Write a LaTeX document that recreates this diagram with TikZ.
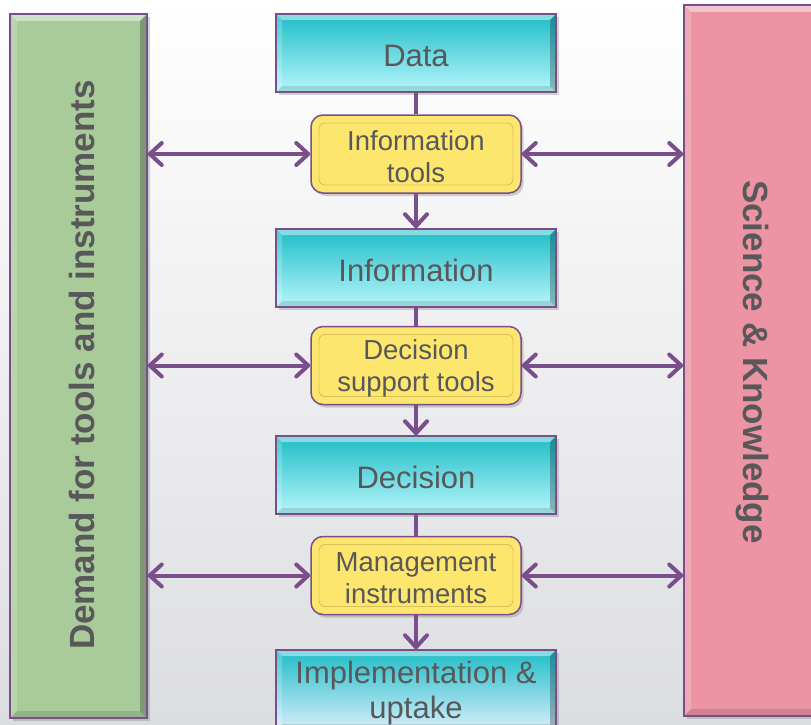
\documentclass[tikz,border=0pt]{standalone}
\usepackage{fontspec}
\setmainfont{Liberation Sans}
\usetikzlibrary{arrows.meta,shadows}
\definecolor{purp}{HTML}{7A4E8B}
\definecolor{txt}{HTML}{58585A}
\definecolor{cyanT}{HTML}{1FBDC7}
\definecolor{cyanB}{HTML}{B6F6FB}
\definecolor{implB}{HTML}{D6EEFC}
\definecolor{yel}{HTML}{FDE66E}
\definecolor{yelline}{HTML}{D9C25A}
\definecolor{grn}{HTML}{A9CB9A}
\definecolor{pnk}{HTML}{EC94A3}
\definecolor{bgB}{HTML}{DCDDE0}
\tikzset{
  bevel/.style={path picture={
    \fill[white,opacity=.45] (path picture bounding box.north west) -- (path picture bounding box.north east) -- ([shift={(-#1,-#1)}]path picture bounding box.north east) -- ([shift={(#1,-#1)}]path picture bounding box.north west) -- cycle;
    \fill[white,opacity=.2] (path picture bounding box.north west) -- (path picture bounding box.south west) -- ([shift={(#1,#1)}]path picture bounding box.south west) -- ([shift={(#1,-#1)}]path picture bounding box.north west) -- cycle;
    \fill[black,opacity=.25] (path picture bounding box.north east) -- (path picture bounding box.south east) -- ([shift={(-#1,#1)}]path picture bounding box.south east) -- ([shift={(-#1,-#1)}]path picture bounding box.north east) -- cycle;
    \fill[black,opacity=.12] (path picture bounding box.south west) -- (path picture bounding box.south east) -- ([shift={(-#1,#1)}]path picture bounding box.south east) -- ([shift={(#1,#1)}]path picture bounding box.south west) -- cycle;
  }},
  shad/.style={drop shadow={opacity=.35, shadow xshift=2.5pt, shadow yshift=-3pt}},
  ctext/.style={label={[text=txt, font=\fontsize{31}{35}\selectfont, align=center, inner sep=0pt, yshift=-2.5pt]center:#1}},
  ytext/.style={label={[text=txt, font=\fontsize{27.5}{32}\selectfont, align=center, inner sep=0pt, yshift=-2.5pt]center:#1}},
  cbox/.style={draw=purp, line width=1.5pt, minimum width=280pt, minimum height=78pt, inner sep=0pt,
    top color=cyanT, bottom color=cyanB, bevel=6pt, shad},
  ybox/.style={draw=purp, line width=1.5pt, rounded corners=12pt, minimum width=210pt, minimum height=78pt,
    inner sep=0pt, fill=yel, shad,
    path picture={\draw[yelline, line width=.9pt, rounded corners=6pt]
      ([shift={(8pt,-8pt)}]path picture bounding box.north west) rectangle
      ([shift={(-8pt,8pt)}]path picture bounding box.south east);}},
  sidebox/.style={draw=purp, line width=1.5pt, inner sep=0pt, bevel=7pt, shad},
  sidelabel/.style={text=txt, font=\fontsize{35}{40}\selectfont\bfseries, inner sep=0pt},
  arr/.style={draw=purp, line width=4pt,
    {Straight Barb[length=12pt,width=22pt,round]}-{Straight Barb[length=12pt,width=22pt,round]}},
  arr1/.style={draw=purp, line width=4pt, -{Straight Barb[length=12pt,width=22pt,round]}},
  ln/.style={draw=purp, line width=4pt},
}
\begin{document}
\begin{tikzpicture}[x=1pt,y=-1pt]
\shade[top color=white, bottom color=bgB] (0,0) rectangle (811,725);
\useasboundingbox (0,0) rectangle (811,725);

\node[sidebox, fill=grn, minimum width=137pt, minimum height=704pt] (dem) at (78.5,366) {};
\node[sidelabel, rotate=90] (demlab) at (82,365) {Demand for tools and instruments};
\node[sidebox, fill=pnk, minimum width=151pt, minimum height=711pt] (sci) at (759.5,360.5) {};
\node[sidelabel, rotate=-90] (scilab) at (752,362) {Science \& Knowledge};

\node[cbox, ctext={Data}] (data) at (416,53) {};
\node[ybox, ytext={Information\\tools}] (it) at (416,154) {};
\node[cbox, ctext={Information}] (info) at (416,268) {};
\node[ybox, ytext={Decision\\support tools}] (dst) at (416,365.5) {};
\node[cbox, ctext={Decision}] (dec) at (416,475) {};
\node[ybox, ytext={Management\\instruments}] (mi) at (416,575.5) {};
\node[cbox, bottom color=implB, minimum height=80pt, ctext={Implementation \&\\uptake}] (impl) at (416,690) {};

\draw[ln] (data.south) -- (it.north);
\draw[arr1] (it.south) -- (info.north);
\draw[ln] (info.south) -- (dst.north);
\draw[arr1] (dst.south) -- (dec.north);
\draw[ln] (dec.south) -- (mi.north);
\draw[arr1] (mi.south) -- (impl.north);

\draw[arr] (dem.east |- it.west) -- (it.west);
\draw[arr] (it.east) -- (sci.west |- it.east);
\draw[arr] (dem.east |- dst.west) -- (dst.west);
\draw[arr] (dst.east) -- (sci.west |- dst.east);
\draw[arr] (dem.east |- mi.west) -- (mi.west);
\draw[arr] (mi.east) -- (sci.west |- mi.east);
\end{tikzpicture}
\end{document}
